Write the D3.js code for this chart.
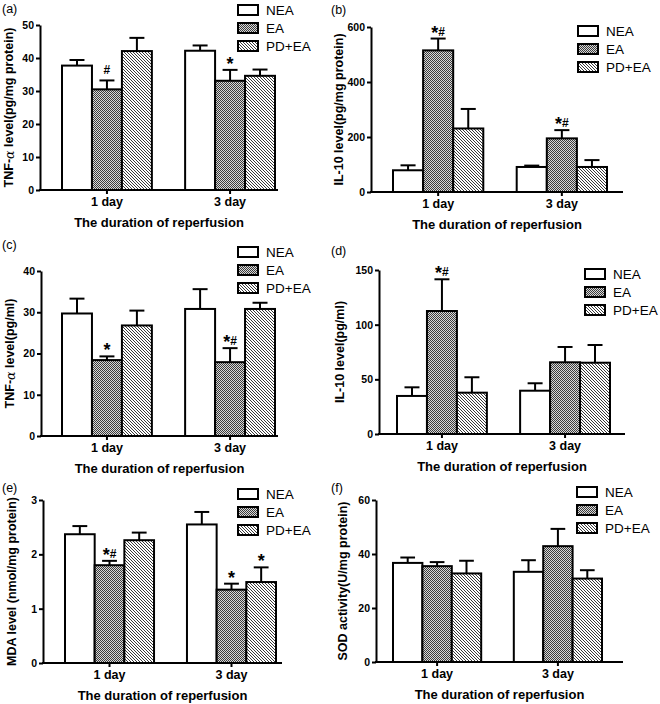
<!DOCTYPE html>
<html>
<head>
<meta charset="utf-8">
<script src="https://cdn.jsdelivr.net/npm/d3@7/dist/d3.min.js"></script>
<style>
  body { margin: 0; background: #fff; }
  svg text { font-family: "Liberation Sans", Arial, sans-serif; }
</style>
</head>
<body>
<div id="chart"></div>
<script>
// categories and groups shared by all six panels
var categories = ["1 day", "3 day"];
var groups = ["NEA", "EA", "PD+EA"];

// (a) TNF-a in tissue, pg/mg protein  [category][group]
var tnfTissueMean = [[37.7, 30.5, 42.1], [42.2, 33.1, 34.6]];
var tnfTissueErr  = [[1.7, 2.7, 4.0], [1.6, 3.3, 1.9]];
var tnfTissueMarks = [["", "#", ""], ["", "*", ""]];
var tnfTissueTicks = [0, 10, 20, 30, 40, 50];

// (b) IL-10 in tissue, pg/mg protein
var il10TissueMean = [[79, 515, 231], [91, 195, 91]];
var il10TissueErr  = [[18, 43, 71], [5, 30, 25]];
var il10TissueMarks = [["", "*#", ""], ["", "*#", ""]];
var il10TissueTicks = [0, 200, 400, 600];

// (c) TNF-a in serum, pg/ml
var tnfSerumMean = [[29.7, 18.4, 26.8], [30.8, 17.9, 30.8]];
var tnfSerumErr  = [[3.6, 0.9, 3.6], [4.8, 3.4, 1.5]];
var tnfSerumMarks = [["", "*", ""], ["", "*#", ""]];
var tnfSerumTicks = [0, 10, 20, 30, 40];

// (d) IL-10 in serum, pg/ml
var il10SerumMean = [[34.8, 112.5, 37.8], [39.6, 65.6, 65.2]];
var il10SerumErr  = [[7.9, 29, 14.1], [6.8, 14, 16.2]];
var il10SerumMarks = [["", "*#", ""], ["", "", ""]];
var il10SerumTicks = [0, 50, 100, 150];

// (e) MDA, nmol/mg protein
var mdaMean = [[2.37, 1.80, 2.26], [2.55, 1.35, 1.49]];
var mdaErr  = [[0.15, 0.08, 0.14], [0.23, 0.11, 0.27]];
var mdaMarks = [["", "*#", ""], ["", "*", "*"]];
var mdaTicks = [0, 1, 2, 3];

// (f) SOD activity, U/mg protein
var sodMean = [[36.7, 35.5, 32.8], [33.4, 42.9, 30.9]];
var sodErr  = [[2.0, 1.5, 4.7], [4.3, 6.4, 3.1]];
var sodMarks = [["", "", ""], ["", "", ""]];
var sodTicks = [0, 20, 40, 60];

var xTitle = "The duration of reperfusion";

var svg = d3.select("#chart").append("svg")
  .attr("width", 660)
  .attr("height", 704)

// fill patterns: white / dotted checker / diagonal hatch
var defs = svg.append("defs")
var dots = defs.append("pattern").attr("id", "dots")
  .attr("patternUnits", "userSpaceOnUse").attr("width", 2).attr("height", 2)
dots.append("rect").attr("width", 2).attr("height", 2).attr("fill", "#d8d8d8")
dots.append("rect").attr("width", 1).attr("height", 1).attr("fill", "#3c3c3c")
dots.append("rect").attr("x", 1).attr("y", 1).attr("width", 1).attr("height", 1).attr("fill", "#3c3c3c")

var hatch = defs.append("pattern").attr("id", "hatch")
  .attr("patternUnits", "userSpaceOnUse").attr("width", 3).attr("height", 3)
hatch.append("rect").attr("width", 3).attr("height", 3).attr("fill", "#fff")
hatch.append("path").attr("d", "M-1,-1L4,4M-1,2L1,4M2,-1L4,1")
  .attr("stroke", "#3a3a3a").attr("stroke-width", 1)

var fills = ["#ffffff", "url(#dots)", "url(#hatch)"]

function drawPanel(p){
  var g = svg.append("g")

  var y = d3.scaleLinear()
    .domain([0, p.ticks[p.ticks.length-1]])
    .range([p.bottom, p.top])

  var x = d3.scaleBand()
    .domain(categories)
    .range([p.barLeft, p.barRight])
    .paddingInner(0.27)
    .paddingOuter(0)

  var xg = d3.scaleBand()
    .domain(groups)
    .range([0, x.bandwidth()])

  // bars
  categories.forEach(function(c, ci){
    groups.forEach(function(gr, gi){
      var bx = x(c) + xg(gr)
      var bw = xg.bandwidth()
      var v = p.mean[ci][gi]
      var top = y(v + p.err[ci][gi])
      g.append("line")
        .attr("x1", bx + bw/2).attr("x2", bx + bw/2)
        .attr("y1", y(v)).attr("y2", top)
        .attr("stroke", "#000").attr("stroke-width", 2)
      g.append("line")
        .attr("x1", bx + bw/4).attr("x2", bx + bw*3/4)
        .attr("y1", top).attr("y2", top)
        .attr("stroke", "#000").attr("stroke-width", 2)
      g.append("rect")
        .attr("x", bx).attr("y", y(v))
        .attr("width", bw).attr("height", p.bottom - y(v))
        .attr("fill", fills[gi])
        .attr("stroke", "#000").attr("stroke-width", 2)
      if (p.marks[ci][gi]) {
        var t = g.append("text")
          .attr("x", bx + bw/2).attr("y", top - 3)
          .attr("text-anchor", "middle")
          .attr("font-weight", "bold")
        p.marks[ci][gi].split("").forEach(function(ch){
          if (ch === "*") t.append("tspan").attr("font-size", 18).attr("dy", ch === "*" ? 3 : 0).text(ch)
          else t.append("tspan").attr("font-size", 12).attr("dy", -3).text(ch)
        })
      }
    })
  })

  // y axis
  var ya = g.append("g")
    .attr("transform", "translate(" + p.axisX + ",0)")
    .call(d3.axisLeft(y).tickValues(p.ticks).tickFormat(d3.format("~g"))
      .tickSize(4).tickSizeOuter(0).tickPadding(2))
  ya.selectAll("path,line").attr("stroke", "#000").attr("stroke-width", 2)
  ya.selectAll("text")
    .attr("font-size", 10.5).attr("font-weight", "bold")
    .attr("font-family", "Liberation Sans, Arial, sans-serif").attr("fill", "#000")

  // x axis
  var xa = g.append("g")
    .attr("transform", "translate(0," + p.bottom + ")")
    .call(d3.axisBottom(x).tickSize(4).tickSizeOuter(0).tickPadding(3))
  xa.select(".domain").remove()
  xa.selectAll("line").attr("stroke", "#000").attr("stroke-width", 2)
  xa.selectAll("text")
    .attr("font-size", 12.5).attr("font-weight", "bold")
    .attr("font-family", "Liberation Sans, Arial, sans-serif").attr("fill", "#000")
  g.append("line")
    .attr("x1", p.axisX - 1).attr("x2", p.xEnd)
    .attr("y1", p.bottom).attr("y2", p.bottom)
    .attr("stroke", "#000").attr("stroke-width", 2)

  g.append("text")
    .attr("x", (p.axisX + p.xEnd)/2).attr("y", p.bottom + 37)
    .attr("text-anchor", "middle")
    .attr("font-size", 13).attr("font-weight", "bold")
    .text(xTitle)

  // y title (alpha set apart like the original)
  var yt = g.append("text")
    .attr("transform", "translate(" + p.labelX + "," + (p.top + p.bottom)/2 + ") rotate(-90)")
    .attr("text-anchor", "middle")
    .attr("dominant-baseline", "central")
    .attr("font-size", 12.5).attr("font-weight", "bold")
  var parts = p.title.split("α")
  if (parts.length > 1) {
    yt.append("tspan").text(parts[0])
    yt.append("tspan").attr("font-style", "italic").attr("font-weight", "normal")
      .attr("font-family", "DejaVu Serif, serif").text("α")
    yt.append("tspan").text(parts[1])
  } else {
    yt.text(p.title)
  }

  // panel letter
  g.append("text")
    .attr("x", p.letterX).attr("y", p.letterY)
    .attr("font-size", 12.5)
    .text(p.letter)

  // legend
  groups.forEach(function(gr, gi){
    var ly = p.legY + gi*18
    g.append("rect")
      .attr("x", p.legX).attr("y", ly - 5)
      .attr("width", 20).attr("height", 10)
      .attr("fill", fills[gi])
      .attr("stroke", "#000").attr("stroke-width", 2)
    g.append("text")
      .attr("x", p.legX + 28).attr("y", ly)
      .attr("dominant-baseline", "central")
      .attr("font-size", 13.5)
      .text(gr)
  })
}

drawPanel({letter: "(a)", letterX: 2, letterY: 13, title: "TNF-α level(pg/mg protein)",
  mean: tnfTissueMean, err: tnfTissueErr, marks: tnfTissueMarks, ticks: tnfTissueTicks,
  axisX: 40, top: 25, bottom: 190, xEnd: 278, barLeft: 62, barRight: 275,
  labelX: 9, legX: 238, legY: 10})

drawPanel({letter: "(b)", letterX: 331, letterY: 14, title: "IL-10 level(pg/mg protein)",
  mean: il10TissueMean, err: il10TissueErr, marks: il10TissueMarks, ticks: il10TissueTicks,
  axisX: 371, top: 27, bottom: 192, xEnd: 623, barLeft: 393, barRight: 607,
  labelX: 339, legX: 578, legY: 31})

drawPanel({letter: "(c)", letterX: 2, letterY: 249, title: "TNF-α level(pg/ml)",
  mean: tnfSerumMean, err: tnfSerumErr, marks: tnfSerumMarks, ticks: tnfSerumTicks,
  axisX: 41, top: 271, bottom: 436, xEnd: 278, barLeft: 62, barRight: 275,
  labelX: 10, legX: 238, legY: 252})

drawPanel({letter: "(d)", letterX: 331, letterY: 255, title: "IL-10 level(pg/ml)",
  mean: il10SerumMean, err: il10SerumErr, marks: il10SerumMarks, ticks: il10SerumTicks,
  axisX: 379, top: 270, bottom: 434, xEnd: 625, barLeft: 397, barRight: 610,
  labelX: 340, legX: 585, legY: 274})

drawPanel({letter: "(e)", letterX: 2, letterY: 492, title: "MDA level (nmol/mg protein)",
  mean: mdaMean, err: mdaErr, marks: mdaMarks, ticks: mdaTicks,
  axisX: 43, top: 500, bottom: 663, xEnd: 282, barLeft: 65, barRight: 276,
  labelX: 12, legX: 238, legY: 494})

drawPanel({letter: "(f)", letterX: 331, letterY: 492, title: "SOD activity(U/mg protein)",
  mean: sodMean, err: sodErr, marks: sodMarks, ticks: sodTicks,
  axisX: 376, top: 500, bottom: 662, xEnd: 623, barLeft: 393, barRight: 602,
  labelX: 343, legX: 577, legY: 492})
</script>
</body>
</html>
